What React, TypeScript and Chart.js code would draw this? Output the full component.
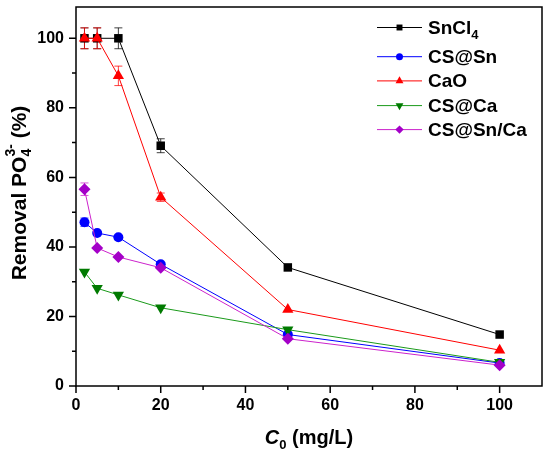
import { useEffect, useRef } from "react";
import { Chart, registerables } from "chart.js";
import { drawPoint } from "chart.js/helpers";
import type { ChartConfiguration, Plugin } from "chart.js";

Chart.register(...registerables);

// ---- data ----
const CONC = [2, 5, 10, 20, 50, 100];

const SNCL4 = [100, 100, 100, 69.1, 34.1, 14.8];
const CS_SN = [47.1, 44.0, 42.8, 35.0, 14.8, 6.6];
const CAO = [100, 100, 89.2, 54.3, 22.0, 10.3];
const CS_CA = [32.8, 28.1, 26.2, 22.5, 16.2, 6.8];
const CS_SN_CA = [56.6, 39.7, 37.1, 34.0, 13.6, 6.0];

const SNCL4_ERR = [3, 3, 3, 2, 0, 0];
const CS_SN_ERR = [1.2, 0, 0, 0, 0, 0];
const CAO_ERR = [3, 3, 2.8, 1.2, 0, 0];
const CS_CA_ERR = [0, 0, 0, 0, 0, 0];
const CS_SN_CA_ERR = [1.8, 0, 0, 0, 0, 0];

const X_LABEL_TICKS = [0, 20, 40, 60, 80, 100];
const Y_LABEL_TICKS = [0, 20, 40, 60, 80, 100];
const X_ALL_TICKS = [0, 10, 20, 30, 40, 50, 60, 70, 80, 90, 100];
const Y_ALL_TICKS = [0, 10, 20, 30, 40, 50, 60, 70, 80, 90, 100];

const FONT = '"Liberation Sans", Arial, sans-serif';

// series drawn in legend order; `order` puts later ones on top
const SERIES = [
  { label: "SnCl4", data: SNCL4, err: SNCL4_ERR, line: "#000000", fill: "#000000", style: "rect", radius: 6, rot: 0, order: 5 },
  { label: "CS@Sn", data: CS_SN, err: CS_SN_ERR, line: "#0000ff", fill: "#0000ff", style: "circle", radius: 5, rot: 0, order: 4 },
  { label: "CaO", data: CAO, err: CAO_ERR, line: "#ff0000", fill: "#ff0000", style: "triangle", radius: 6.5, rot: 0, order: 3 },
  { label: "CS@Ca", data: CS_CA, err: CS_CA_ERR, line: "#1a9a1a", fill: "#007a00", style: "triangle", radius: 6.5, rot: 180, order: 2 },
  { label: "CS@Sn/Ca", data: CS_SN_CA, err: CS_SN_CA_ERR, line: "#cc22cc", fill: "#a400c8", style: "rectRot", radius: 6, rot: 0, order: 1 },
];

// error bars drawn under the markers
const errorBarsPlugin: Plugin<"line"> = {
  id: "errorBars",
  beforeDatasetsDraw(chart) {
    const { ctx, scales } = chart;
    ctx.save();
    ctx.lineWidth = 1;
    chart.data.datasets.forEach((ds: any) => {
      if (!ds.errors) return;
      ctx.strokeStyle = ds.borderColor;
      ctx.globalAlpha = 0.75;
      ds.data.forEach((p: any, i: number) => {
        const e = ds.errors[i];
        if (!e) return;
        const x = scales.x.getPixelForValue(p.x);
        const yt = scales.y.getPixelForValue(p.y + e);
        const yb = scales.y.getPixelForValue(p.y - e);
        ctx.beginPath();
        ctx.moveTo(x, yt);
        ctx.lineTo(x, yb);
        ctx.moveTo(x - 4, yt);
        ctx.lineTo(x + 4, yt);
        ctx.moveTo(x - 4, yb);
        ctx.lineTo(x + 4, yb);
        ctx.stroke();
      });
    });
    ctx.restore();
  },
};

// frame, tick marks, axis titles and legend
const decorPlugin: Plugin<"line"> = {
  id: "decor",
  afterDraw(chart) {
    const { ctx, chartArea: a, scales } = chart;
    ctx.save();
    ctx.strokeStyle = "#000";
    ctx.lineWidth = 1.5;
    ctx.strokeRect(a.left, a.top, a.right - a.left, a.bottom - a.top);

    ctx.beginPath();
    Y_ALL_TICKS.forEach((v) => {
      const y = scales.y.getPixelForValue(v);
      const len = v % 20 === 0 ? 7 : 4;
      ctx.moveTo(a.left - len, y);
      ctx.lineTo(a.left, y);
    });
    X_ALL_TICKS.forEach((v) => {
      const x = scales.x.getPixelForValue(v);
      const len = v % 20 === 0 ? 7 : 4;
      ctx.moveTo(x, a.bottom);
      ctx.lineTo(x, a.bottom + len);
    });
    ctx.stroke();

    ctx.fillStyle = "#000";
    ctx.textBaseline = "alphabetic";
    ctx.textAlign = "left";

    // x title: C0 (mg/L)
    const big = `bold 20px ${FONT}`;
    const small = `bold 13px ${FONT}`;
    ctx.font = `italic ${big}`;
    const wC = ctx.measureText("C").width;
    ctx.font = small;
    const w0 = ctx.measureText("0").width;
    ctx.font = big;
    const wRest = ctx.measureText(" (mg/L)").width;
    const x0 = (a.left + a.right) / 2 - (wC + w0 + wRest) / 2;
    const xb = 444;
    ctx.font = `italic ${big}`;
    ctx.fillText("C", x0, xb);
    ctx.font = small;
    ctx.fillText("0", x0 + wC, xb + 5);
    ctx.font = big;
    ctx.fillText(" (mg/L)", x0 + wC + w0, xb);

    // y title: Removal PO4 3- (%)
    const yBig = `bold 21px ${FONT}`;
    const ySmall = `bold 14px ${FONT}`;
    ctx.save();
    ctx.translate(26, 193);
    ctx.rotate(-Math.PI / 2);
    ctx.font = yBig;
    const wA = ctx.measureText("Removal PO").width;
    const wB = ctx.measureText(" (%)").width;
    ctx.font = ySmall;
    const wS = Math.max(ctx.measureText("4").width, ctx.measureText("3-").width);
    const t = -(wA + wS + wB) / 2;
    ctx.font = yBig;
    ctx.fillText("Removal PO", t, 0);
    ctx.font = ySmall;
    ctx.fillText("4", t + wA, 5);
    ctx.fillText("3-", t + wA, -11);
    ctx.font = yBig;
    ctx.fillText(" (%)", t + wA + wS, 0);
    ctx.restore();

    // legend
    const rows = [27.5, 56.7, 80.9, 105.6, 129.6];
    chart.data.datasets.forEach((ds: any, i: number) => {
      const y = rows[i];
      ctx.strokeStyle = ds.borderColor;
      ctx.lineWidth = 1;
      ctx.beginPath();
      ctx.moveTo(377, y);
      ctx.lineTo(422, y);
      ctx.stroke();
      ctx.fillStyle = ds.pointBackgroundColor;
      drawPoint(
        ctx,
        { pointStyle: ds.pointStyle, rotation: ds.pointRotation, radius: ds.pointRadius * 0.7, borderWidth: 0 },
        399.5,
        y
      );
      const m = /^(.*?)(\d+)$/.exec(ds.label);
      const main = m ? m[1] : ds.label;
      ctx.fillStyle = "#000";
      ctx.font = `bold 19px ${FONT}`;
      ctx.textBaseline = "middle";
      ctx.fillText(main, 428, y + 1);
      if (m) {
        const w = ctx.measureText(main).width;
        ctx.font = `bold 13px ${FONT}`;
        ctx.fillText(m[2], 428 + w, y + 8);
      }
    });
    ctx.restore();
  },
};

const createConfig = (): ChartConfiguration<"line"> => ({
  type: "line",
  data: {
    datasets: SERIES.map((s) => ({
      label: s.label,
      data: CONC.map((x, i) => ({ x, y: s.data[i] })),
      errors: s.err,
      borderColor: s.line,
      borderWidth: 1,
      pointStyle: s.style as any,
      pointRotation: s.rot,
      pointRadius: s.radius,
      pointBackgroundColor: s.fill,
      pointBorderColor: s.fill,
      pointBorderWidth: 0,
      order: s.order,
      tension: 0,
    })) as any,
  },
  options: {
    responsive: true,
    maintainAspectRatio: false,
    animation: false,
    layout: { padding: { top: 7, right: 8, left: 0, bottom: 0 } },
    plugins: {
      legend: { display: false },
      tooltip: { enabled: false },
    },
    scales: {
      x: {
        type: "linear",
        min: 0,
        max: 110,
        afterBuildTicks: (scale) => {
          scale.ticks = X_LABEL_TICKS.map((value) => ({ value }));
        },
        afterFit: (scale: any) => {
          scale.height = 69;
          scale.paddingLeft = 0;
          scale.paddingRight = 0;
        },
        grid: { display: false, drawTicks: false },
        border: { display: false },
        ticks: {
          padding: 10,
          color: "#000",
          font: { family: FONT, size: 16, weight: "bold" },
          maxRotation: 0,
        },
      },
      y: {
        type: "linear",
        min: 0,
        max: 109,
        afterBuildTicks: (scale) => {
          scale.ticks = Y_LABEL_TICKS.map((value) => ({ value }));
        },
        afterFit: (scale: any) => {
          scale.width = 76;
          scale.paddingTop = 0;
          scale.paddingBottom = 0;
        },
        grid: { display: false, drawTicks: false },
        border: { display: false },
        ticks: {
          padding: 12,
          color: "#000",
          font: { family: FONT, size: 16, weight: "bold" },
        },
      },
    },
  },
  plugins: [errorBarsPlugin, decorPlugin],
});

export default function App() {
  const canvasRef = useRef<HTMLCanvasElement>(null);
  const chartRef = useRef<Chart | null>(null);

  useEffect(() => {
    document.body.style.margin = "0";
    if (!canvasRef.current) return;
    chartRef.current?.destroy();
    chartRef.current = new Chart(canvasRef.current, createConfig());
    return () => {
      chartRef.current?.destroy();
      chartRef.current = null;
    };
  }, []);

  return (
    <div style={{ width: 550, height: 455, position: "relative", background: "#fff" }}>
      <canvas ref={canvasRef} aria-label="Removal of phosphate vs initial concentration" />
    </div>
  );
}
